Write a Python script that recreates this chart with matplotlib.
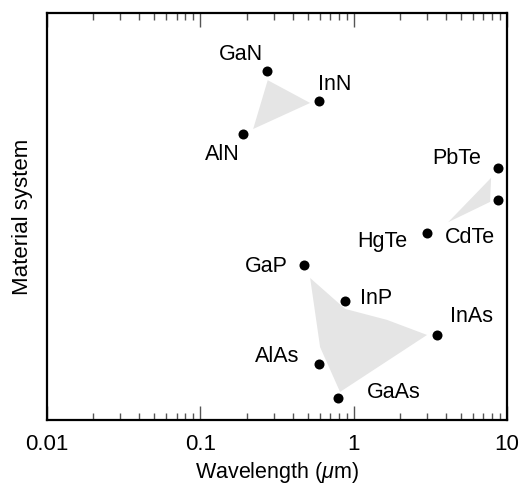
import numpy as np
import matplotlib
matplotlib.use("Agg")
import matplotlib.pyplot as plt
from matplotlib.ticker import FixedLocator, FixedFormatter, LogLocator, NullFormatter

plt.rcParams['font.family'] = ['Liberation Sans', 'DejaVu Sans']
plt.rcParams['mathtext.fontset'] = 'custom'
plt.rcParams['mathtext.it'] = 'Liberation Sans:italic'
plt.rcParams['mathtext.rm'] = 'Liberation Sans'

# materials: wavelength (um) and position on the arbitrary "material system" axis
names = ["GaN", "InN", "AlN", "PbTe", "CdTe", "HgTe", "GaP", "InP", "InAs", "AlAs", "GaAs"]
wavelength = [0.272, 0.594, 0.19, 8.75, 8.75, 3.01, 0.474, 0.88, 3.5, 0.594, 0.79]
system_pos = [85.7, 78.4, 70.3, 61.9, 54.1, 45.9, 38.1, 29.2, 20.9, 13.8, 5.4]
# label offsets (points) relative to each dot
label_dx = [-18.7, 11.5, -15, -30, -20, -32, -27, 22, 25, -30, 40]
label_dy = [12.2, 11.5, -15, 7, -27, -6, -1, 2, 13, 5, 4]

# alloy ranges (gray areas)
nitride_x = [0.275, 0.52, 0.221]
nitride_y = [83.5, 77.9, 71.5]
telluride_x = [7.87, 7.76, 4.13]
telluride_y = [59.5, 53.6, 48.6]
iii_v_x = [0.52, 0.88, 1.65, 3.01, 0.815, 0.604]
iii_v_y = [34.9, 27.3, 24.6, 20.9, 6.9, 17.9]

fig = plt.figure(figsize=(5.24, 4.84), dpi=100)
ax = fig.add_axes([0.0897, 0.1322, 0.8779, 0.8409])

for px, py in [(nitride_x, nitride_y), (telluride_x, telluride_y), (iii_v_x, iii_v_y)]:
    ax.fill(px, py, color="#e5e5e5", lw=0, zorder=1)

ax.scatter(wavelength, system_pos, s=52, color="black", zorder=3, linewidths=0)
for n, x, y, dx, dy in zip(names, wavelength, system_pos, label_dx, label_dy):
    ax.annotate(n, (x, y), xytext=(dx, dy), textcoords="offset points",
                ha="center", va="center", fontsize=15.5)

ax.set_xscale("log")
ax.set_xlim(0.01, 10)
ax.set_ylim(0, 100)
ax.xaxis.set_major_locator(FixedLocator([0.01, 0.1, 1, 10]))
ax.xaxis.set_major_formatter(FixedFormatter(["0.01", "0.1", "1", "10"]))
ax.xaxis.set_minor_locator(LogLocator(base=10, subs=np.arange(2, 10)))
ax.xaxis.set_minor_formatter(NullFormatter())
ax.tick_params(axis="x", which="both", direction="in", top=True, bottom=True,
               color="#555555", labelsize=16, pad=10)
ax.tick_params(axis="x", which="major", length=10, width=1)
ax.tick_params(axis="x", which="minor", length=5, width=1)
ax.set_yticks([])
for sp in ax.spines.values():
    sp.set_linewidth(1.6)

ax.set_xlabel(r"Wavelength ($\mu$m)", fontsize=15.5, va="bottom")
ax.xaxis.set_label_coords(0.5, -0.16)
ax.set_ylabel("Material system", fontsize=16, labelpad=10)

fig.savefig("out.png", dpi=100)
